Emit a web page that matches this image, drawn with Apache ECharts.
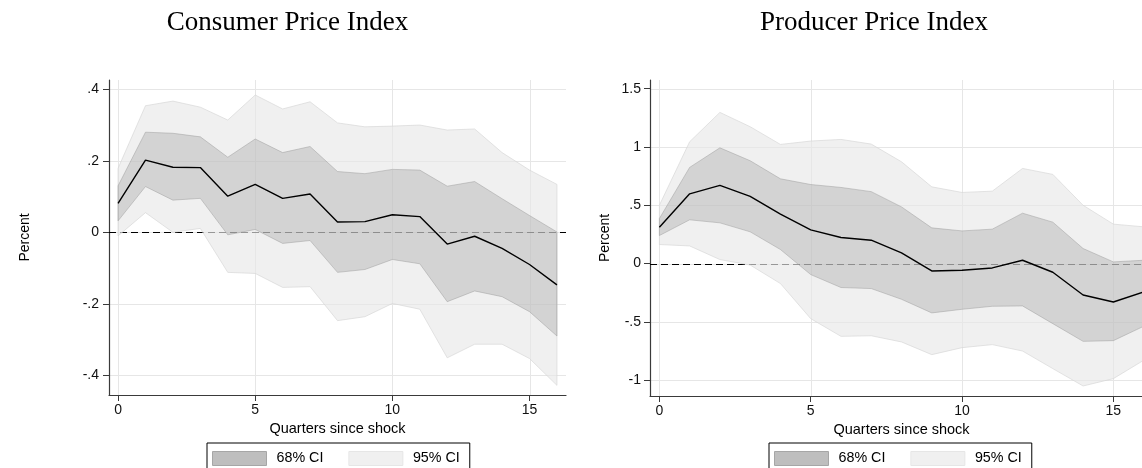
<!DOCTYPE html>
<html>
<head>
<meta charset="utf-8">
<title>Impulse responses: CPI and PPI</title>
<script src="https://cdn.jsdelivr.net/npm/echarts@6/dist/echarts.min.js"></script>
<style>
  html, body { margin: 0; padding: 0; background: #fff; }
  #chart { width: 1142px; height: 468px; }
</style>
</head>
<body>
<div id="chart"></div>
<script>
// Horizon (quarters after the shock)
const quarters = [0, 1, 2, 3, 4, 5, 6, 7, 8, 9, 10, 11, 12, 13, 14, 15, 16];

// Consumer Price Index response (percent)
const cpiIrf  = [0.081, 0.202, 0.182, 0.181, 0.101, 0.134, 0.095, 0.107, 0.029, 0.030, 0.049, 0.044, -0.033, -0.011, -0.045, -0.090, -0.147];
const cpiHi68 = [0.130, 0.280, 0.277, 0.267, 0.210, 0.261, 0.223, 0.240, 0.170, 0.164, 0.176, 0.174, 0.129, 0.142, 0.094, 0.047, 0.001];
const cpiLo68 = [0.032, 0.128, 0.090, 0.095, -0.007, 0.008, -0.031, -0.023, -0.112, -0.104, -0.076, -0.088, -0.194, -0.164, -0.180, -0.222, -0.290];
const cpiHi95 = [0.179, 0.354, 0.367, 0.350, 0.314, 0.384, 0.345, 0.365, 0.306, 0.295, 0.297, 0.300, 0.286, 0.289, 0.223, 0.174, 0.134];
const cpiLo95 = [-0.010, 0.055, 0.000, 0.011, -0.112, -0.115, -0.154, -0.152, -0.247, -0.236, -0.199, -0.215, -0.351, -0.313, -0.313, -0.353, -0.428];

// Producer Price Index response (percent)
const ppiIrf  = [0.312, 0.598, 0.670, 0.576, 0.424, 0.289, 0.223, 0.200, 0.091, -0.064, -0.058, -0.038, 0.028, -0.075, -0.270, -0.330, -0.245];
const ppiHi68 = [0.386, 0.825, 0.993, 0.882, 0.727, 0.678, 0.653, 0.617, 0.486, 0.306, 0.280, 0.295, 0.432, 0.355, 0.129, 0.014, 0.028];
const ppiLo68 = [0.240, 0.375, 0.349, 0.272, 0.120, -0.095, -0.206, -0.215, -0.307, -0.424, -0.393, -0.367, -0.364, -0.516, -0.668, -0.662, -0.539];
const ppiHi95 = [0.500, 1.045, 1.297, 1.174, 1.022, 1.051, 1.065, 1.025, 0.873, 0.658, 0.610, 0.621, 0.816, 0.765, 0.500, 0.338, 0.315];
const ppiLo95 = [0.163, 0.151, 0.034, -0.013, -0.172, -0.473, -0.625, -0.620, -0.673, -0.782, -0.722, -0.696, -0.751, -0.902, -1.051, -0.988, -0.831];

// Tick values
const xTicks = [0, 5, 10, 15];
const cpiYTicks = [-0.4, -0.2, 0, 0.2, 0.4];
const ppiYTicks = [-1, -0.5, 0, 0.5, 1, 1.5];

// Panel and legend text
const panelTitles = ['Consumer Price Index', 'Producer Price Index'];
const xTitle = 'Quarters since shock';
const yTitle = 'Percent';
const bandNames = ['68% CI', '95% CI'];

const SANS = '"Liberation Sans", Arial, sans-serif';
const SERIF = '"Liberation Serif", "Times New Roman", serif';
const AXIS_COLOR = '#3a3a3a';
const GRID_COLOR = '#e6e6e6';

// Stata-style labels: drop the leading zero (.4, -.2)
function fmt(v) {
  const s = String(Math.round(v * 1000) / 1000);
  return s.replace(/^(-?)0\./, '$1.');
}

const crisp = p => Math.round(p) + 0.5;

const chart = echarts.init(document.getElementById('chart'), null, { renderer: 'canvas' });

function xAxisFor(gridIndex, min, max, nameGap) {
  return {
    type: 'value', gridIndex, min, max,
    name: xTitle, nameLocation: 'middle', nameGap,
    nameTextStyle: { fontFamily: SANS, fontSize: 14.5, color: '#000' },
    axisLine: { show: true, onZero: false, lineStyle: { color: AXIS_COLOR, width: 1.2 } },
    axisTick: { show: true, length: 6, customValues: xTicks, lineStyle: { color: AXIS_COLOR, width: 1 } },
    axisLabel: { customValues: xTicks, margin: 8, fontFamily: SANS, fontSize: 14, color: '#111', formatter: fmt },
    splitLine: { show: false }
  };
}

function yAxisFor(gridIndex, min, max, ticks, nameGap, margin) {
  return {
    type: 'value', gridIndex, min, max,
    name: yTitle, nameLocation: 'middle', nameGap, nameRotate: 90,
    nameTextStyle: { fontFamily: SANS, fontSize: 14, color: '#000' },
    axisLine: { show: true, onZero: false, lineStyle: { color: AXIS_COLOR, width: 1.2 } },
    axisTick: { show: true, length: 6, customValues: ticks, lineStyle: { color: AXIS_COLOR, width: 1 } },
    axisLabel: { customValues: ticks, margin, fontFamily: SANS, fontSize: 14, color: '#111', formatter: fmt },
    splitLine: { show: false }
  };
}

// Gridlines at the tick values, drawn beneath the bands
function gridLayer(gridIndex, yTicks) {
  return {
    type: 'custom', xAxisIndex: gridIndex, yAxisIndex: gridIndex,
    z: 0, silent: true, clip: false,
    data: [[quarters[0], 0]],
    renderItem(params, api) {
      const cs = params.coordSys;
      const children = [];
      xTicks.forEach(v => {
        const px = crisp(api.coord([v, 0])[0]);
        children.push({ type: 'line', shape: { x1: px, y1: cs.y, x2: px, y2: cs.y + cs.height },
          style: { stroke: GRID_COLOR, lineWidth: 1 } });
      });
      yTicks.forEach(v => {
        const py = crisp(api.coord([0, v])[1]);
        children.push({ type: 'line', shape: { x1: cs.x, y1: py, x2: cs.x + cs.width, y2: py },
          style: { stroke: GRID_COLOR, lineWidth: 1 } });
      });
      return { type: 'group', children };
    }
  };
}

// Dashed reference line at zero, spanning the plot area
function zeroLine(gridIndex) {
  return {
    type: 'custom', xAxisIndex: gridIndex, yAxisIndex: gridIndex,
    z: 1, silent: true, clip: false,
    data: [[quarters[0], 0]],
    renderItem(params, api) {
      const cs = params.coordSys;
      const py = crisp(api.coord([0, 0])[1]);
      return { type: 'line', shape: { x1: cs.x, y1: py, x2: cs.x + cs.width, y2: py },
        style: { stroke: '#000', lineWidth: 1.1, lineDash: [7, 4] } };
    }
  };
}

// Shaded confidence band between lower and upper bounds
function band(name, gridIndex, lo, hi, fill, stroke, z) {
  return {
    type: 'custom', name, xAxisIndex: gridIndex, yAxisIndex: gridIndex,
    z, silent: true, clip: true,
    data: [[quarters[0], lo[0]]],
    renderItem(params, api) {
      const pts = [];
      for (let i = 0; i < quarters.length; i++) pts.push(api.coord([quarters[i], hi[i]]));
      for (let i = quarters.length - 1; i >= 0; i--) pts.push(api.coord([quarters[i], lo[i]]));
      return { type: 'polygon', shape: { points: pts }, style: { fill, stroke, lineWidth: 1 } };
    }
  };
}

function irfLine(gridIndex, irf) {
  return {
    type: 'line', xAxisIndex: gridIndex, yAxisIndex: gridIndex, z: 4, silent: true,
    data: quarters.map((q, i) => [q, irf[i]]),
    showSymbol: false, lineStyle: { color: '#000', width: 1.4 }
  };
}

const LIGHT_FILL = 'rgba(232,232,232,0.65)';
const LIGHT_EDGE = 'rgba(214,214,214,0.65)';
const DARK_FILL = 'rgba(102,102,102,0.21)';
const DARK_EDGE = 'rgba(150,150,150,0.45)';

function legendFor(left) {
  return {
    show: true, left, top: 443, orient: 'horizontal',
    icon: 'rect', itemWidth: 54, itemHeight: 14, itemGap: 25,
    padding: [8, 10, 8, 5],
    borderColor: '#000', borderWidth: 1, borderRadius: 0,
    backgroundColor: '#fff',
    selectedMode: false,
    textStyle: { fontFamily: SANS, fontSize: 14.3, color: '#000', padding: [0, 0, 0, 5] },
    data: [
      { name: bandNames[0], itemStyle: { color: '#bebebe', borderColor: '#a6a6a6', borderWidth: 1 } },
      { name: bandNames[1], itemStyle: { color: '#f0f0f0', borderColor: '#e6e6e6', borderWidth: 1 } }
    ]
  };
}

const option = {
  animation: false,
  backgroundColor: '#fff',
  grid: [
    { left: 109, top: 80, width: 457, height: 315, outerBoundsMode: 'none', containLabel: false },
    { left: 650, top: 80, width: 503, height: 316, outerBoundsMode: 'none', containLabel: false }
  ],
  xAxis: [
    xAxisFor(0, -0.33, 16.33, 25),
    xAxisFor(1, -0.31, 16.31, 25)
  ],
  yAxis: [
    yAxisFor(0, -0.455, 0.426, cpiYTicks, 77, 10),
    yAxisFor(1, -1.137, 1.575, ppiYTicks, 38, 9)
  ],
  legend: [legendFor(207), legendFor(769)],
  graphic: [
    { type: 'text', x: 287.5, y: 23, silent: true,
      style: { text: panelTitles[0], font: '27px ' + SERIF, fill: '#000', align: 'center', verticalAlign: 'middle' } },
    { type: 'text', x: 874, y: 23, silent: true,
      style: { text: panelTitles[1], font: '27px ' + SERIF, fill: '#000', align: 'center', verticalAlign: 'middle' } }
  ],
  series: [
    gridLayer(0, cpiYTicks),
    zeroLine(0),
    band(bandNames[1], 0, cpiLo95, cpiHi95, LIGHT_FILL, LIGHT_EDGE, 2),
    band(bandNames[0], 0, cpiLo68, cpiHi68, DARK_FILL, DARK_EDGE, 3),
    irfLine(0, cpiIrf),
    gridLayer(1, ppiYTicks),
    zeroLine(1),
    band(bandNames[1], 1, ppiLo95, ppiHi95, LIGHT_FILL, LIGHT_EDGE, 2),
    band(bandNames[0], 1, ppiLo68, ppiHi68, DARK_FILL, DARK_EDGE, 3),
    irfLine(1, ppiIrf)
  ]
};

chart.setOption(option);
</script>
</body>
</html>
